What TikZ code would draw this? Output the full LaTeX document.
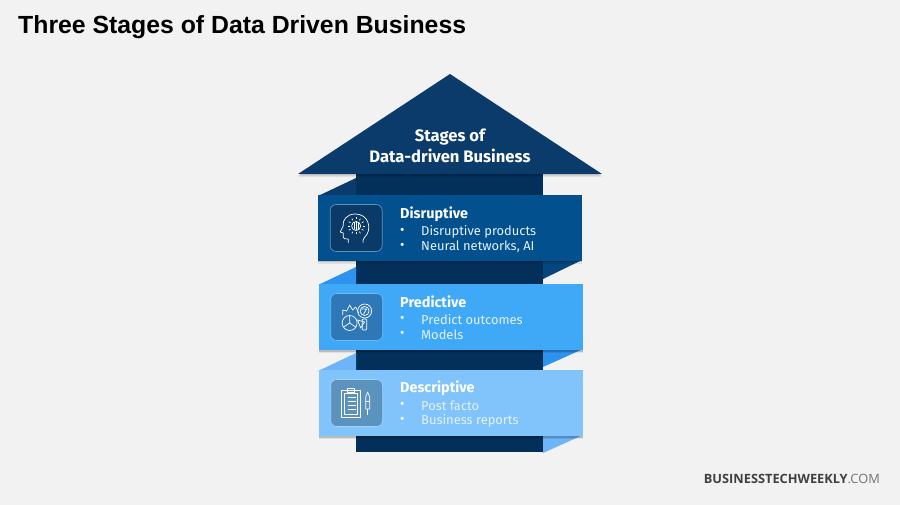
\documentclass[tikz,border=0pt]{standalone}
\usepackage{fontspec}
\setmainfont{Fira Sans}
\newfontfamily\titlefont{Liberation Sans}
\newfontfamily\brandfont{Open Sans}
\usetikzlibrary{positioning, shadows}

\definecolor{pagegray}{HTML}{F2F2F2}
\definecolor{headblue}{HTML}{0B3B6B}
\definecolor{shaftblue}{HTML}{03305A}
\definecolor{bandA}{HTML}{03508F}
\definecolor{foldA}{HTML}{07457E}
\definecolor{boxA}{HTML}{0A3A68}
\definecolor{rimA}{HTML}{5E93BD}
\definecolor{bandB}{HTML}{3FA9F7}
\definecolor{foldB}{HTML}{2E93EE}
\definecolor{boxB}{HTML}{2E78B8}
\definecolor{rimB}{HTML}{6DBBF5}
\definecolor{bandC}{HTML}{80C4FB}
\definecolor{foldC}{HTML}{6DB5F8}
\definecolor{boxC}{HTML}{5C93BE}
\definecolor{rimC}{HTML}{A0D3FB}
\definecolor{softwhite}{HTML}{E4F1FB}

\begin{document}
\begin{tikzpicture}[x=1pt, y=-1pt, line join=round,
                    softshadow/.style={drop shadow={shadow xshift=0pt, shadow yshift=-3pt, opacity=.08, fill=black},
                                       drop shadow={shadow xshift=0pt, shadow yshift=-1.5pt, opacity=.16, fill=black}},
                    band/.style={minimum width=264pt, minimum height=66pt, inner sep=0pt, softshadow},
                    iconbox/.style={minimum width=52pt, minimum height=47pt, inner sep=0pt,
                                    rounded corners=6pt, line width=.7pt},
                    heading/.style={font=\bfseries\fontsize{14.4}{16}\selectfont, text=white, inner sep=0pt, anchor=west},
                    item/.style={font=\fontsize{12.9}{14}\selectfont, text=softwhite, inner sep=0pt, anchor=west},
                    bullet/.style={font=\fontsize{13.5}{14}\selectfont, text=white, inner sep=0pt, anchor=west},
                    glyph/.style={draw=white, line width=.7pt, fill=none}]

    \fill[pagegray] (0,0) rectangle (900,505);
    \useasboundingbox (0,0) rectangle (900,505);

    \node[font=\titlefont\bfseries\fontsize{24.8}{26}\selectfont, inner sep=0pt, anchor=west] (title) at (18,27)
        {Three Stages of Data Driven Business};

    % arrow
    \fill[shaftblue] (356,170) rectangle (543,452);
    \fill[headblue, softshadow]
        (450,74) -- (602,174) -- (298,174) -- cycle;
    \node[font=\bfseries\fontsize{16.6}{21}\selectfont, text=white, align=center, inner sep=0pt] (stages) at (450,146)
        {Stages of\\Data-driven Business};

    % folds behind the bands
    \fill[headblue] (318,196) -- (356,178) -- (356,196) -- cycle;
    \fill[foldA] (543,260) -- (582,260) -- (543,279) -- cycle;
    \fill[foldB] (318,285) -- (356,267) -- (356,285) -- cycle;
    \fill[foldB] (543,349) -- (583,349) -- (543,367) -- cycle;
    \fill[foldC] (318,371) -- (356,353) -- (356,371) -- cycle;
    \fill[foldC] (543,435) -- (583,435) -- (543,453) -- cycle;

    % bands
    \node[band, fill=bandA] (disruptive) at (450,228) {};
    \node[band, fill=bandB] (predictive) at (450.5,317) {};
    \node[band, fill=bandC] (descriptive) at (450.5,403) {};

    \node[iconbox, fill=boxA, draw=rimA, right=12pt of disruptive.west] (iconA) {};
    \node[iconbox, fill=boxB, draw=rimB, right=12pt of predictive.west] (iconB) {};
    \node[iconbox, fill=boxC, draw=rimC, right=12pt of descriptive.west] (iconC) {};

    % texts
    \node[heading] (headA) at (400,214.5) {Disruptive};
    \node[bullet] (bulA1) at (400,231.5) {•};
    \node[item] (txtA1) at (421,231.5) {Disruptive products};
    \node[bullet] (bulA2) at (400,246.5) {•};
    \node[item] (txtA2) at (421,246.5) {Neural networks, AI};

    \node[heading] (headB) at (400,302) {Predictive};
    \node[bullet] (bulB1) at (400,319.5) {•};
    \node[item] (txtB1) at (421,319.5) {Predict outcomes};
    \node[bullet] (bulB2) at (400,334.5) {•};
    \node[item] (txtB2) at (421,334.5) {Models};

    \node[heading] (headC) at (400,388) {Descriptive};
    \node[bullet] (bulC1) at (400,405.5) {•};
    \node[item] (txtC1) at (421,405.5) {Post facto};
    \node[bullet] (bulC2) at (400,420.5) {•};
    \node[item] (txtC2) at (421,420.5) {Business reports};

    % head icon
    \begin{scope}[shift={(iconA.center)}]
        \draw[glyph] (7,15) .. controls (6,11) and (9,9) .. (11,6)
            .. controls (15,-1) and (12,-14) .. (-1,-14)
            .. controls (-9,-14) and (-14,-8) .. (-13,-2)
            -- (-16,4) -- (-13,5) -- (-13,9) .. controls (-13,11) and (-11,11) .. (-8,11)
            -- (-8,15);
        \draw[glyph] (0,-2) circle (4.5);
        \draw[glyph] (0,-6.5) -- (0,2.5) (-2,-5.5) -- (-2,1.5) (2,-5.5) -- (2,1.5);
        \foreach \ang in {0,30,...,330}
            \draw[glyph] (\ang:6.5) ++(0,-2) -- ++(\ang:2);
    \end{scope}

    % chart icon
    \begin{scope}[shift={(iconB.center)}]
        \draw[glyph] (-14,-2) -- (-14,-7) -- (-10,-6) -- (-7,-12) -- (-4,-7) -- (-1,-10) -- (2,-4);
        \draw[glyph] (-7,6) circle (7.5);
        \draw[glyph] (-7,6) -- (-7,-1.5) (-7,6) -- (-1,10) (-7,6) -- (-13,10);
        \draw[glyph] (1,3) -- (8,5) -- (4,11) -- cycle;
        \draw[glyph] (8,-6) circle (7);
        \draw[glyph] (8,-6) circle (4.5);
        \draw[glyph] (5,-8) -- (10,-8) -- (7,-3);
        \draw[glyph, rounded corners=1pt] (5.5,2) rectangle (10,13);
    \end{scope}

    % clipboard icon
    \begin{scope}[shift={(iconC.center)}]
        \draw[glyph] (-15,-13) rectangle (4,14);
        \draw[glyph] (-12,-10) -- (-12,11) -- (1,11) -- (1,-10) -- cycle;
        \draw[glyph] (-9,-15) -- (-2,-15) -- (-2,-11) -- (-9,-11) -- cycle;
        \foreach \yy in {-6,-2,2,6}
            \draw[glyph] (-9,\yy) -- (-1,\yy);
        \draw[glyph] (9,-6) -- (11,-11) -- (13,-6) -- (13,6) -- (9,6) -- cycle;
        \draw[glyph] (9,-2) -- (13,-2);
        \draw[glyph] (11,6) -- (11,12);
    \end{scope}

    % brand
    \node[font=\brandfont\fontsize{12.8}{15}\selectfont, text=black!75, inner sep=0pt, anchor=east] (brand) at (880,479)
        {\textbf{BUSINESSTECHWEEKLY}{\color{black!55}.COM}};
\end{tikzpicture}
\end{document}
